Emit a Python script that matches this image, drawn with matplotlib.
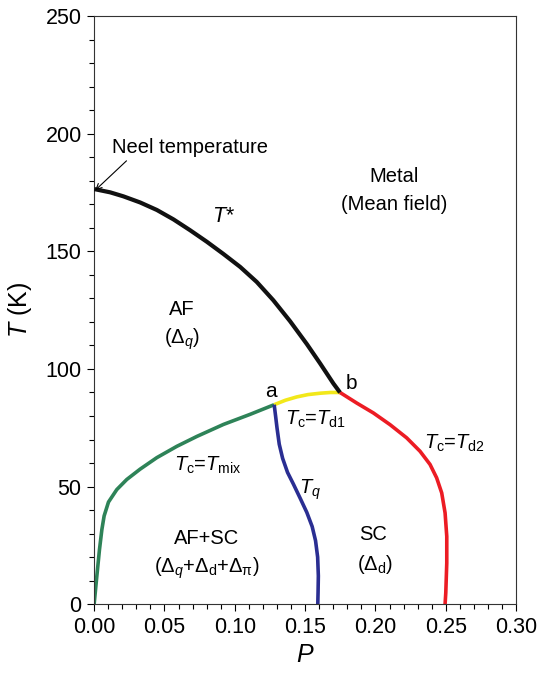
import matplotlib
matplotlib.use("Agg")
import matplotlib.pyplot as plt
from matplotlib.ticker import MultipleLocator

plt.rcParams['font.family'] = ['Liberation Sans', 'DejaVu Sans']
plt.rcParams['mathtext.fontset'] = 'custom'
plt.rcParams['mathtext.rm'] = 'Liberation Sans'
plt.rcParams['mathtext.it'] = 'Liberation Sans:italic'

# phase boundaries (P, T in K)
tstar_p = [0.000, 0.0114, 0.0208, 0.0327, 0.0446, 0.0564, 0.0682, 0.0801, 0.0919,
           0.1038, 0.1156, 0.1274, 0.1393, 0.1512, 0.1606, 0.1701, 0.1748]
tstar_t = [176.5, 175.1, 173.4, 170.8, 167.6, 163.6, 159.0, 154.1, 148.9,
           143.4, 137.0, 129.2, 120.3, 110.6, 102.4, 93.8, 90.0]

tmix_p = [0.000, 0.0019, 0.0038, 0.0055, 0.0071, 0.0102, 0.0161, 0.0232, 0.0327,
          0.0446, 0.0588, 0.0730, 0.0919, 0.1109, 0.1280]
tmix_t = [0.0, 11.8, 23.2, 31.7, 37.5, 43.4, 48.7, 53.0, 57.4,
          62.3, 67.1, 71.3, 76.4, 80.7, 84.8]

td1_p = [0.128, 0.136, 0.144, 0.152, 0.161, 0.168, 0.1748]
td1_t = [84.8, 86.7, 88.1, 89.1, 89.7, 90.0, 90.0]

td2_p = [0.1748, 0.1867, 0.1985, 0.2104, 0.2222, 0.2317, 0.2388, 0.2435, 0.2471,
         0.2495, 0.2507, 0.2507, 0.2500, 0.2495]
td2_t = [90.0, 85.5, 81.3, 76.3, 70.7, 65.0, 59.4, 53.7, 47.3,
         38.8, 28.8, 17.5, 4.8, 0.0]

tq_p = [0.128, 0.1290, 0.1300, 0.1316, 0.1340, 0.1375, 0.1417, 0.1465, 0.1512,
        0.1550, 0.1574, 0.1589, 0.1594, 0.1592, 0.1590]
tq_t = [84.8, 80, 75, 68, 62, 56, 51, 45, 39, 33, 27, 20, 12, 5, 0]

fig = plt.figure(figsize=(5.41, 6.75), dpi=100)
ax = fig.add_axes([0.174, 0.105, 0.780, 0.871])

ax.plot(tstar_p, tstar_t, color='#111111', lw=3.0, solid_capstyle='butt',
        solid_joinstyle='round', zorder=3)
for p, t, c in [(tmix_p, tmix_t, '#2e8358'), (td1_p, td1_t, '#f2e81a'),
                (td2_p, td2_t, '#ec1c24'), (tq_p, tq_t, '#2a2e92')]:
    ax.plot(p, t, color=c, lw=2.6, solid_capstyle='butt', solid_joinstyle='round')

ax.set_xlim(0, 0.30)
ax.set_ylim(0, 250)
ax.xaxis.set_major_locator(MultipleLocator(0.05))
ax.xaxis.set_minor_locator(MultipleLocator(0.01))
ax.yaxis.set_major_locator(MultipleLocator(50))
ax.yaxis.set_minor_locator(MultipleLocator(10))
ax.xaxis.set_major_formatter(plt.FuncFormatter(lambda v, _: f"{v:.2f}"))
ax.tick_params(which='major', direction='out', length=5, width=0.8, labelsize=15.5, pad=4)
ax.tick_params(which='minor', direction='out', length=3.5, width=0.8)
for s in ax.spines.values():
    s.set_linewidth(0.8)
    s.set_color('#333333')

ax.set_xlabel('$P$', fontsize=18, labelpad=4)
ax.set_ylabel('$T$ (K)', fontsize=18, labelpad=8)

fs = 14.5
ax.text(0.0128, 194.3, 'Neel temperature', fontsize=fs, ha='left', va='center')
ax.annotate('', xy=(0.0008, 176), xytext=(0.023, 188.5),
            arrowprops=dict(arrowstyle='->', lw=0.8, color='black', shrinkA=0, shrinkB=0))
ax.text(0.213, 182, 'Metal', fontsize=fs, ha='center', va='center')
ax.text(0.213, 170, '(Mean field)', fontsize=fs, ha='center', va='center')
ax.text(0.092, 165, '$T$*', fontsize=fs + 1, ha='center', va='center')
ax.text(0.0623, 125.2, 'AF', fontsize=fs, ha='center', va='center')
ax.text(0.0623, 112.5, r'($\Delta_q$)', fontsize=fs, ha='center', va='center')
ax.text(0.1256, 90.5, 'a', fontsize=fs + 0.5, ha='center', va='center')
ax.text(0.183, 94, 'b', fontsize=fs + 0.5, ha='center', va='center')
ax.text(0.1576, 78.4, r'$T_{\mathrm{c}}$=$T_{\mathrm{d1}}$', fontsize=fs, ha='center', va='center')
ax.text(0.0805, 58.9, r'$T_{\mathrm{c}}$=$T_{\mathrm{mix}}$', fontsize=fs, ha='center', va='center')
ax.text(0.2559, 68.5, r'$T_{\mathrm{c}}$=$T_{\mathrm{d2}}$', fontsize=fs, ha='center', va='center')
ax.text(0.1535, 48.7, r'$T_q$', fontsize=fs, ha='center', va='center')
ax.text(0.080, 28.1, 'AF+SC', fontsize=fs, ha='center', va='center')
ax.text(0.080, 15.4, r'($\Delta_q$+$\Delta_{\mathrm{d}}$+$\Delta_{\mathrm{\pi}}$)', fontsize=fs, ha='center', va='center')
ax.text(0.198, 29.5, 'SC', fontsize=fs, ha='center', va='center')
ax.text(0.1997, 16.8, r'($\Delta_{\mathrm{d}}$)', fontsize=fs, ha='center', va='center')

fig.savefig('out.png', dpi=100)
